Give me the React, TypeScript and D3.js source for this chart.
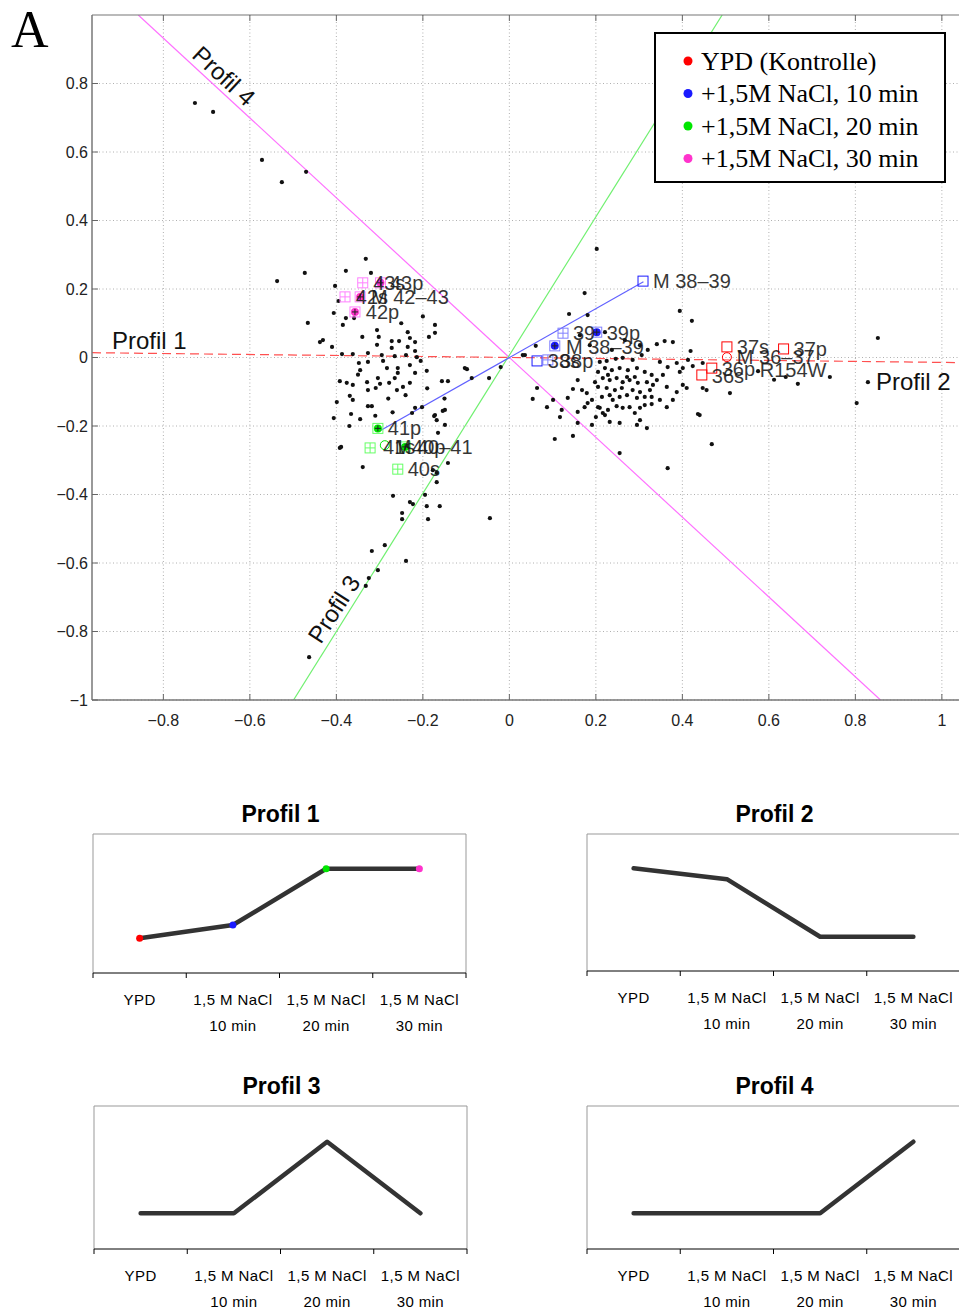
import React from 'react';
import * as d3 from 'd3';

// ---------- DATA ----------
const xTicks = [-0.8, -0.6, -0.4, -0.2, 0, 0.2, 0.4, 0.6, 0.8, 1];
const yTicks = [0.8, 0.6, 0.4, 0.2, 0, -0.2, -0.4, -0.6, -0.8, -1];

// gene points (x, y)
const genePoints: [number, number][] = [
  [-0.727, 0.743], [-0.685, 0.717], [-0.572, 0.577], [-0.526, 0.512], [-0.470, 0.542],
  [-0.537, 0.223], [-0.473, 0.247], [-0.378, 0.253], [-0.332, 0.288], [-0.320, 0.247],
  [-0.403, 0.209], [-0.406, 0.130], [-0.466, 0.101], [-0.385, 0.095], [-0.378, 0.115],
  [-0.359, 0.115], [-0.438, 0.045], [-0.431, 0.051], [-0.410, 0.031], [-0.306, 0.080],
  [-0.302, 0.060], [-0.306, 0.037], [-0.272, 0.048], [-0.255, 0.048], [-0.235, 0.074],
  [-0.230, 0.057], [-0.218, 0.045], [-0.172, 0.095], [-0.172, 0.072], [-0.186, 0.060],
  [-0.235, 0.031], [-0.272, 0.028], [-0.218, 0.019], [-0.387, 0.010], [-0.362, 0.010],
  [-0.327, 0.013], [-0.295, 0.007], [-0.265, 0.004], [-0.239, 0.007], [-0.214, 0.001],
  [-0.348, -0.016], [-0.327, -0.013], [-0.292, -0.010], [-0.283, -0.031], [-0.258, -0.031],
  [-0.345, -0.037], [-0.230, -0.022], [-0.191, -0.039], [-0.218, -0.045], [-0.258, -0.045],
  [-0.304, -0.060], [-0.278, -0.074], [-0.230, -0.074], [-0.098, -0.034], [-0.156, -0.069],
  [-0.142, -0.069], [-0.087, -0.060], [-0.392, -0.069], [-0.376, -0.074], [-0.362, -0.080],
  [-0.329, -0.072], [-0.299, -0.077], [-0.327, -0.095], [-0.309, -0.089], [-0.260, -0.095],
  [-0.246, -0.086], [-0.399, -0.130], [-0.369, -0.112], [-0.362, -0.124], [-0.327, -0.142],
  [-0.318, -0.142], [-0.218, -0.147], [-0.225, -0.162], [-0.202, -0.145], [-0.172, -0.168],
  [-0.168, -0.183], [-0.149, -0.153], [-0.406, -0.177], [-0.366, -0.165], [-0.345, -0.180],
  [-0.149, -0.197], [-0.174, -0.171], [-0.154, -0.156], [-0.165, -0.220], [-0.392, -0.264],
  [-0.339, -0.320], [-0.142, -0.308], [-0.168, -0.337], [-0.168, -0.364], [-0.177, -0.329],
  [-0.269, -0.404], [-0.230, -0.422], [-0.223, -0.428], [-0.195, -0.401], [-0.191, -0.434],
  [-0.161, -0.434], [-0.248, -0.454], [-0.248, -0.472], [-0.188, -0.472], [-0.045, -0.469],
  [-0.288, -0.548], [-0.318, -0.565], [-0.239, -0.594], [-0.304, -0.621], [-0.325, -0.644],
  [-0.332, -0.667], [-0.463, -0.875], [-0.103, -0.031], [-0.047, -0.060], [-0.020, -0.028],
  [0.036, 0.007], [-0.389, -0.261],
  [-0.395, 0.165], [-0.250, 0.100], [-0.200, 0.120], [-0.350, -0.050], [-0.280, -0.120],
  [-0.240, -0.110], [-0.190, -0.090], [-0.150, -0.120], [-0.370, -0.200], [-0.310, -0.170],
  [-0.270, -0.160], [-0.340, 0.060], [-0.265, -0.060], [-0.205, -0.010],
  [0.202, 0.317], [0.174, 0.188], [0.138, 0.127], [0.181, 0.124], [0.394, 0.136],
  [0.422, 0.107], [0.061, 0.034], [0.031, 0.007], [0.341, 0.039], [0.359, 0.048],
  [0.378, 0.045], [0.419, 0.019], [0.447, -0.016], [0.401, -0.031], [0.320, 0.022],
  [0.306, 0.007], [0.285, -0.007], [0.262, -0.001], [0.246, -0.004], [0.225, -0.010],
  [0.209, -0.013], [0.221, -0.031], [0.237, -0.037], [0.255, -0.031], [0.274, -0.037],
  [0.295, -0.031], [0.313, -0.042], [0.329, -0.051], [0.216, -0.060], [0.232, -0.066],
  [0.248, -0.060], [0.262, -0.072], [0.278, -0.066], [0.297, -0.074], [0.318, -0.072],
  [0.332, -0.080], [0.205, -0.086], [0.225, -0.089], [0.244, -0.095], [0.260, -0.089],
  [0.285, -0.095], [0.302, -0.101], [0.325, -0.095], [0.214, -0.115], [0.232, -0.110],
  [0.158, -0.066], [0.168, -0.095], [0.147, -0.092], [0.179, -0.104], [0.191, -0.124],
  [0.181, -0.133], [0.174, -0.145], [0.135, -0.118], [0.064, -0.089], [0.054, -0.121],
  [0.121, -0.153], [0.158, -0.159], [0.209, -0.147], [0.221, -0.168], [0.248, -0.142],
  [0.262, -0.147], [0.278, -0.145], [0.302, -0.147], [0.313, -0.139], [0.329, -0.136],
  [0.232, -0.188], [0.318, -0.206], [0.341, -0.066], [0.364, -0.086], [0.387, -0.101],
  [0.410, -0.089], [0.447, -0.089], [0.456, -0.095], [0.348, -0.013], [0.366, -0.028],
  [0.387, -0.016], [0.394, -0.042], [0.355, -0.051], [0.401, -0.080], [0.424, -0.025],
  [0.413, -0.007], [0.440, -0.168], [0.200, -0.174], [0.105, -0.238], [0.147, -0.229],
  [0.255, -0.279], [0.366, -0.323], [0.468, -0.253], [0.436, -0.165], [0.510, -0.104],
  [0.741, -0.057], [0.667, -0.077], [0.639, -0.057], [0.803, -0.133], [0.829, -0.072],
  [0.852, 0.057], [0.302, -0.183], [0.216, -0.162], [0.205, -0.145], [0.163, 0.065],
  [0.221, 0.074], [0.267, 0.051], [0.302, 0.036], [0.186, 0.036], [0.237, 0.022],
  [0.575, -0.040], [0.612, -0.065],
  [0.205, -0.042], [0.228, -0.051], [0.272, -0.057], [0.290, -0.057], [0.255, -0.115],
  [0.272, -0.110], [0.295, -0.118], [0.313, -0.115], [0.198, -0.072], [0.329, -0.115],
  [0.239, -0.124], [0.228, -0.153], [0.290, -0.162], [0.348, -0.124], [0.364, -0.145],
  [0.378, -0.124], [0.101, -0.124], [0.087, -0.145], [0.117, -0.174], [0.158, -0.191],
  [0.191, -0.197], [0.255, -0.191], [0.295, -0.197],
];

// sample markers per condition: [x, y, shape]
const ypdMarkers: [number, number, string][] = [
  [0.503, 0.031, 'sq'], [0.634, 0.025, 'sq'], [0.503, 0.001, 'circ'],
  [0.468, -0.031, 'sq'], [0.445, -0.051, 'sq'],
];
const min10Markers: [number, number, string][] = [
  [0.309, 0.223, 'sq'], [0.124, 0.071, 'sqplus'], [0.202, 0.074, 'fill'],
  [0.105, 0.034, 'fill'], [0.064, -0.010, 'sq'], [0.089, -0.007, 'sqplus'],
];
const min20Markers: [number, number, string][] = [
  [-0.304, -0.207, 'fill'], [-0.322, -0.264, 'sqplus'], [-0.288, -0.256, 'circ'],
  [-0.241, -0.261, 'fill'], [-0.258, -0.326, 'sqplus'],
];
const min30Markers: [number, number, string][] = [
  [-0.339, 0.218, 'sqplus'], [-0.298, 0.218, 'fill'], [-0.380, 0.177, 'sqplus'],
  [-0.345, 0.177, 'fill'], [-0.357, 0.133, 'fill'],
];

// sample labels: [text, x, y]
const sampleLabels: [string, number, number][] = [
  ['M 38–39', 0.332, 0.223], ['39', 0.147, 0.072], ['39p', 0.225, 0.072],
  ['M 38–39', 0.131, 0.031], ['38s', 0.089, -0.010], ['38p', 0.117, -0.010],
  ['37s', 0.526, 0.031], ['37p', 0.657, 0.025], ['M 36–37', 0.526, 0.001],
  ['36p', 0.491, -0.034], ['36s', 0.468, -0.054], ['R154W', 0.579, -0.037],
  ['43s', -0.315, 0.218], ['43p', -0.276, 0.218], ['42s', -0.355, 0.177],
  ['M 42–43', -0.320, 0.177], ['42p', -0.332, 0.133], ['41p', -0.281, -0.206],
  ['41s', -0.292, -0.261], ['M 40–41', -0.265, -0.261], ['40p', -0.225, -0.261],
  ['40s', -0.235, -0.326],
];

// profile directions through the plane: [x1, y1, x2, y2]
const profil1Line = [-0.965, 0.014, 1.05, -0.015];
const profil3Line = [-0.499, -1, 0.492, 1];
const profil4Line = [-0.858, 1, 0.858, -1];
const blueSegment = [-0.298, -0.213, 0.31, 0.221];

const legendLabels = ['YPD (Kontrolle)', '+1,5M NaCl, 10 min', '+1,5M NaCl, 20 min', '+1,5M NaCl, 30 min'];
const conditionColors = ['#ff0000', '#1a1aff', '#00e600', '#ff33cc'];
const lightColors = ['#ff3030', '#8080ff', '#66ff66', '#ff80ff'];

const categories = [['YPD', ''], ['1,5 M NaCl', '10 min'], ['1,5 M NaCl', '20 min'], ['1,5 M NaCl', '30 min']];
const profil1Values = [0.25, 0.345, 0.75, 0.75];
const profil2Values = [0.75, 0.67, 0.25, 0.25];
const profil3Values = [0.25, 0.25, 0.75, 0.25];
const profil4Values = [0.25, 0.25, 0.25, 0.75];

// ---------- MAIN SCATTER ----------
const PL = 92, PR = 963.5, PT = 15, PB = 700;
const xS = d3.scaleLinear().domain([-0.965, 1.05]).range([PL, PR]);
const yS = d3.scaleLinear().domain([-1, 1]).range([PB, PT]);
const fmt = (v: number) => (v < 0 ? '−' : '') + d3.format('')(Math.abs(v));
const SANS = "'Liberation Sans', Arial, sans-serif";
const SERIF = "'Liberation Serif', 'Times New Roman', serif";

function Marker({ x, y, shape, color, light }: { x: number; y: number; shape: string; color: string; light: string }) {
  const cx = xS(x), cy = yS(y);
  const s = 5;
  if (shape === 'fill') {
    return (
      <g>
        <rect x={cx - s} y={cy - s} width={2 * s} height={2 * s} fill="none" stroke={light} strokeWidth={1} />
        <circle cx={cx} cy={cy} r={4} fill={color} />
        <path d={`M${cx - 3},${cy}H${cx + 3}M${cx},${cy - 3}V${cy + 3}`} stroke="#222" strokeWidth={1} />
      </g>
    );
  }
  if (shape === 'circ') {
    return <circle cx={cx} cy={cy} r={4.5} fill="none" stroke={color} strokeWidth={1} />;
  }
  return (
    <g>
      <rect x={cx - s} y={cy - s} width={2 * s} height={2 * s} fill="none" stroke={shape === 'sqplus' ? light : color} strokeWidth={1} />
      {shape === 'sqplus' && (
        <path d={`M${cx - s},${cy}H${cx + s}M${cx},${cy - s}V${cy + s}`} stroke={light} strokeWidth={1} />
      )}
    </g>
  );
}

function MainPlot() {
  const markerSets = [ypdMarkers, min10Markers, min20Markers, min30Markers];
  return (
    <g>
      <defs>
        <clipPath id="plotClip">
          <rect x={PL} y={PT} width={PR - PL} height={PB - PT} />
        </clipPath>
      </defs>
      <rect x={PL} y={PT} width={PR - PL} height={PB - PT} fill="#fff" />
      {xTicks.map((t) => (
        <line key={'gx' + t} x1={xS(t)} x2={xS(t)} y1={PT} y2={PB} stroke="#b0b0b0" strokeDasharray="1,2.5" />
      ))}
      {yTicks.map((t) => (
        <line key={'gy' + t} x1={PL} x2={PR} y1={yS(t)} y2={yS(t)} stroke="#b0b0b0" strokeDasharray="1,2.5" />
      ))}
      <g clipPath="url(#plotClip)">
        <line x1={xS(profil4Line[0])} y1={yS(profil4Line[1])} x2={xS(profil4Line[2])} y2={yS(profil4Line[3])} stroke="#ff70ff" strokeWidth={1.2} />
        <line x1={xS(profil3Line[0])} y1={yS(profil3Line[1])} x2={xS(profil3Line[2])} y2={yS(profil3Line[3])} stroke="#70f070" strokeWidth={1.2} />
        <line x1={xS(blueSegment[0])} y1={yS(blueSegment[1])} x2={xS(blueSegment[2])} y2={yS(blueSegment[3])} stroke="#6060ff" strokeWidth={1.2} />
        <line x1={xS(profil1Line[0])} y1={yS(profil1Line[1])} x2={xS(profil1Line[2])} y2={yS(profil1Line[3])} stroke="#ff5050" strokeWidth={1.2} strokeDasharray="9,5" />
        {genePoints.map(([x, y], i) => (
          <circle key={'p' + i} cx={xS(x)} cy={yS(y)} r={2.1} fill="#111" />
        ))}
        {markerSets.map((set, si) =>
          set.map(([x, y, shape], i) => (
            <Marker key={`m${si}-${i}`} x={x} y={y} shape={shape} color={conditionColors[si]} light={lightColors[si]} />
          ))
        )}
        {sampleLabels.map(([t, x, y], i) => (
          <text key={'l' + i} x={xS(x)} y={yS(y)} dy="0.35em" fontFamily={SANS} fontSize={20} fill="#1a1a1a" opacity={0.88}>
            {t}
          </text>
        ))}
      </g>
      <line x1={PL} x2={PL} y1={PT} y2={PB} stroke="#777" strokeWidth={1.5} />
      <line x1={PL} x2={PR} y1={PB} y2={PB} stroke="#777" strokeWidth={1.5} />
      <line x1={PL} x2={PR} y1={PT} y2={PT} stroke="#777" strokeWidth={1.2} />
      {yTicks.map((t) => (
        <g key={'ty' + t}>
          <line x1={PL} x2={PL + 6} y1={yS(t)} y2={yS(t)} stroke="#666" />
          <text x={PL - 4} y={yS(t)} dy="0.35em" textAnchor="end" fontFamily={SANS} fontSize={16} fill="#222">
            {fmt(t)}
          </text>
        </g>
      ))}
      {xTicks.map((t) => (
        <g key={'tx' + t}>
          <line x1={xS(t)} x2={xS(t)} y1={PB} y2={PB - 6} stroke="#666" />
          <line x1={xS(t)} x2={xS(t)} y1={PT} y2={PT + 6} stroke="#666" />
          <text x={xS(t)} y={PB + 26} textAnchor="middle" fontFamily={SANS} fontSize={16} fill="#222">
            {fmt(t)}
          </text>
        </g>
      ))}
      <text x={112} y={349} fontFamily={SANS} fontSize={24} fill="#111">Profil 1</text>
      <text x={876} y={390} fontFamily={SANS} fontSize={24} fill="#111">Profil 2</text>
      <text transform="translate(224,76) rotate(42.7)" textAnchor="middle" dy="0.35em" fontFamily={SANS} fontSize={24} fill="#111">Profil 4</text>
      <text transform="translate(334,609) rotate(-57)" textAnchor="middle" dy="0.35em" fontFamily={SANS} fontSize={24} fill="#111">Profil 3</text>
      <rect x={655} y={33} width={290} height={149} fill="#fff" stroke="#000" strokeWidth={2} />
      {legendLabels.map((l, i) => (
        <g key={'lg' + i}>
          <circle cx={688} cy={61 + i * 32.5} r={4.5} fill={conditionColors[i]} />
          <text x={701} y={61 + i * 32.5} dy="0.33em" fontFamily={SERIF} fontSize={26} fill="#000">
            {l}
          </text>
        </g>
      ))}
      <text x={11} y={47} fontFamily={SERIF} fontSize={52} fill="#000">A</text>
    </g>
  );
}

// ---------- SMALL PROFILE CHARTS ----------
function SmallProfile({ title, values, left, right, top, axisY, dots }: { title: string; values: number[]; left: number; right: number; top: number; axisY: number; dots: boolean }) {
  const band = d3.scaleBand<number>().domain(d3.range(values.length)).range([left, right]);
  const xc = (i: number) => (band(i) as number) + band.bandwidth() / 2;
  const y = d3.scaleLinear().domain([0, 1]).range([axisY, top]);
  const line = d3.line<number>().x((_, i) => xc(i)).y((v) => y(v));
  const boundaries = d3.range(values.length + 1).map((i) => left + i * band.bandwidth());
  return (
    <g>
      <text x={(left + right) / 2 + 1} y={top - 12} textAnchor="middle" fontFamily={SANS} fontWeight="bold" fontSize={23} fill="#000">
        {title}
      </text>
      <path d={`M${left},${axisY}V${top}H${right}V${axisY}`} fill="none" stroke="#999" strokeWidth={1} />
      <line x1={left} x2={right} y1={axisY} y2={axisY} stroke="#000" strokeWidth={1} />
      {boundaries.map((b, i) => (
        <line key={i} x1={b} x2={b} y1={axisY} y2={axisY + 5} stroke="#000" />
      ))}
      <path d={line(values) || ''} fill="none" stroke="#333" strokeWidth={4.5} strokeLinejoin="round" strokeLinecap="round" />
      {dots && values.map((v, i) => <circle key={i} cx={xc(i)} cy={y(v)} r={3.5} fill={conditionColors[i]} />)}
      {categories.map(([a, b], i) => (
        <g key={'c' + i}>
          <text x={xc(i)} y={axisY + 32} textAnchor="middle" fontFamily={SANS} fontSize={15} letterSpacing={0.4} fill="#000">{a}</text>
          {b && <text x={xc(i)} y={axisY + 58} textAnchor="middle" fontFamily={SANS} fontSize={15} letterSpacing={0.4} fill="#000">{b}</text>}
        </g>
      ))}
    </g>
  );
}

export default function App() {
  return (
    <svg width={959} height={1311} style={{ position: 'absolute', left: 0, top: 0, background: '#fff' }}>
      <rect x={0} y={0} width={959} height={1311} fill="#fff" />
      <MainPlot />
      <SmallProfile title="Profil 1" values={profil1Values} left={93} right={466} top={834} axisY={973} dots={true} />
      <SmallProfile title="Profil 2" values={profil2Values} left={587} right={960} top={834} axisY={971} dots={false} />
      <SmallProfile title="Profil 3" values={profil3Values} left={94} right={467} top={1106} axisY={1249} dots={false} />
      <SmallProfile title="Profil 4" values={profil4Values} left={587} right={960} top={1106} axisY={1249} dots={false} />
    </svg>
  );
}
